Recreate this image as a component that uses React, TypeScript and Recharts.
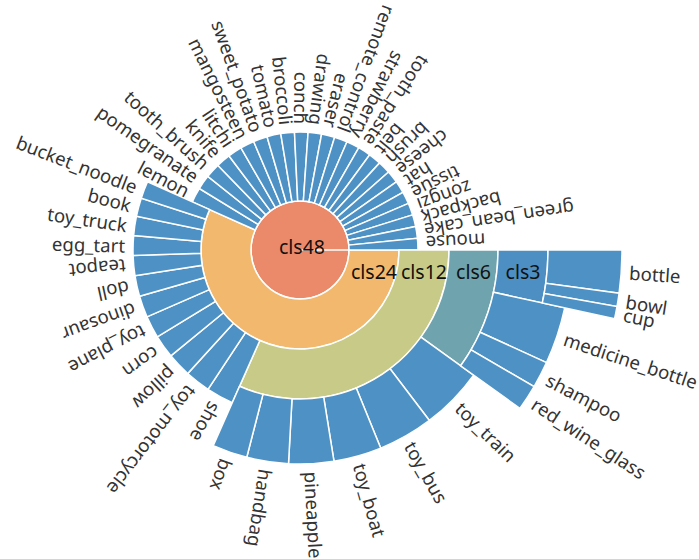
import React from 'react';
import { PieChart, Pie, Cell } from 'recharts';

// leaves of each class, largest first (values read as angular share)
const cls3Leaves = ['bottle', 'bowl', 'cup'];
const cls3Values = [7.7, 2.4, 2.2];

const cls6Leaves = ['medicine_bottle', 'shampoo', 'red_wine_glass'];
const cls6Values = [12.2, 5.7, 5.5];

const cls12Leaves = ['toy_train', 'toy_bus', 'toy_boat', 'pineapple', 'handbag', 'box'];
const cls12Values = [17, 15, 13, 12.2, 11.3, 9.5];

const cls24Leaves = [
  'shoe', 'toy_motorcycle', 'pillow', 'corn', 'toy_plane', 'dinosaur',
  'doll', 'teapot', 'egg_tart', 'toy_truck', 'book', 'bucket_noodle',
];
const cls24Values = [9.5, 8.8, 8.4, 8.0, 7.7, 7.5, 7.2, 7.0, 6.8, 6.7, 6.4, 6.0];

const cls48Leaves = [
  'lemon', 'pomegranate', 'tooth_brush', 'knife', 'litchi', 'mangosteen',
  'sweet_potato', 'tomato', 'broccoli', 'conch', 'drawing', 'eraser',
  'remote_control', 'strawberry', 'tooth_paste', 'belt', 'brush', 'cheese',
  'hat', 'tissue', 'zongzi', 'backpack', 'green_bean_cake', 'mouse',
];
const cls48Values = [
  7.3, 7.2, 7.2, 7.1, 7.0, 6.9, 6.9, 6.8, 6.7, 6.6, 6.6, 6.5,
  6.4, 6.4, 6.3, 6.2, 6.2, 6.1, 6.0, 6.0, 5.9, 5.8, 5.8, 5.7,
];

type Node = { name: string; value?: number; children?: Node[] };
type Seg = { name: string; value: number; kind: 'node' | 'leaf' | 'gap' };

const leaves = (names: string[], values: number[]): Node[] =>
  names.map((name, i) => ({ name, value: values[i] }));

const tree: Node = {
  name: 'cls48',
  children: [
    {
      name: 'cls24',
      children: [
        {
          name: 'cls12',
          children: [
            {
              name: 'cls6',
              children: [{ name: 'cls3', children: leaves(cls3Leaves, cls3Values) }, ...leaves(cls6Leaves, cls6Values)],
            },
            ...leaves(cls12Leaves, cls12Values),
          ],
        },
        ...leaves(cls24Leaves, cls24Values),
      ],
    },
    ...leaves(cls48Leaves, cls48Values),
  ],
};

const total = (n: Node): number => (n.children ? n.children.reduce((s, c) => s + total(c), 0) : n.value || 0);

function ringAt(n: Node, depth: number, d: number, out: Seg[]) {
  if (d === depth) {
    out.push({ name: n.name, value: total(n), kind: n.children ? 'node' : 'leaf' });
    return;
  }
  if (!n.children) {
    out.push({ name: '', value: total(n), kind: 'gap' });
    return;
  }
  n.children.forEach((c) => ringAt(c, depth, d + 1, out));
}

const ring = (depth: number) => {
  const out: Seg[] = [];
  ringAt(tree, depth, 0, out);
  return out;
};

const CX = 300;
const CY = 250;
const NODE_RADII = [[0, 49], [49, 99], [99, 149], [149, 198], [198, 248]];
const LEAF_RADII = [[0, 49], [49, 118], [99, 167], [149, 214], [198, 271], [248, 322]];
const NODE_COLORS = ['#ea8a6b', '#f2b86e', '#c8cb88', '#6fa3ad', '#4d8fc2'];
const LEAF_COLOR = '#4e92c5';
const FONT = '"Noto Sans", "Liberation Sans", Arial, sans-serif';

const kindOf = (p: any) => p.kind ?? p.payload?.kind;

const leafLabel = (p: any) => {
  if (kindOf(p) !== 'leaf') return null;
  const t = (((-p.midAngle) % 360) + 360) % 360;
  const r = p.outerRadius + 8;
  const rad = (t * Math.PI) / 180;
  const x = p.cx + r * Math.cos(rad);
  const y = p.cy + r * Math.sin(rad);
  const lower = t < 180;
  return (
    <text
      x={x}
      y={y}
      transform={`rotate(${lower ? t : t - 180} ${x} ${y})`}
      textAnchor={lower ? 'start' : 'end'}
      dominantBaseline="central"
      fill="#333"
      fontSize={18.6}
      fontFamily={FONT}
    >
      {p.name}
    </text>
  );
};

const nodeLabel = (p: any) => {
  if (kindOf(p) !== 'node') return null;
  const root = p.innerRadius === 0;
  const x = root ? p.cx + 2 : p.cx + (p.innerRadius + p.outerRadius) / 2;
  const y = root ? p.cy - 4 : p.cy + 21;
  return (
    <text x={x} y={y} textAnchor="middle" dominantBaseline="central" fill="#111" fontSize={19.5} fontFamily={FONT}>
      {p.name}
    </text>
  );
};

const depths = [0, 1, 2, 3, 4, 5];

export default function App() {
  return (
    <div style={{ position: 'absolute', left: 0, top: 0 }}>
      <PieChart width={699} height={559} margin={{ top: 0, right: 0, bottom: 0, left: 0 }}>
        {depths.map((d) => {
          const segs = ring(d);
          const pies = [];
          if (d < NODE_RADII.length) {
            const data = segs.map((s) => (s.kind === 'leaf' ? { ...s, kind: 'gap' } : s));
            pies.push(
              <Pie
                key={`n${d}`}
                data={data}
                dataKey="value"
                nameKey="name"
                cx={CX}
                cy={CY}
                innerRadius={NODE_RADII[d][0]}
                outerRadius={NODE_RADII[d][1]}
                startAngle={0}
                endAngle={-360}
                label={nodeLabel}
                labelLine={false}
                isAnimationActive={false}
              >
                {data.map((s, i) => (
                  <Cell
                    key={i}
                    fill={s.kind === 'gap' ? 'none' : NODE_COLORS[d]}
                    stroke={s.kind === 'gap' ? 'none' : '#fff'}
                    strokeWidth={1.5}
                  />
                ))}
              </Pie>,
            );
          }
          if (d > 0) {
            const data = segs.map((s) => (s.kind === 'node' ? { ...s, kind: 'gap' } : s));
            pies.push(
              <Pie
                key={`l${d}`}
                data={data}
                dataKey="value"
                nameKey="name"
                cx={CX}
                cy={CY}
                innerRadius={LEAF_RADII[d][0]}
                outerRadius={LEAF_RADII[d][1]}
                startAngle={0}
                endAngle={-360}
                label={leafLabel}
                labelLine={false}
                isAnimationActive={false}
              >
                {data.map((s, i) => (
                  <Cell
                    key={i}
                    fill={s.kind === 'gap' ? 'none' : LEAF_COLOR}
                    stroke={s.kind === 'gap' ? 'none' : '#fff'}
                    strokeWidth={1.5}
                  />
                ))}
              </Pie>,
            );
          }
          return pies;
        })}
      </PieChart>
    </div>
  );
}
